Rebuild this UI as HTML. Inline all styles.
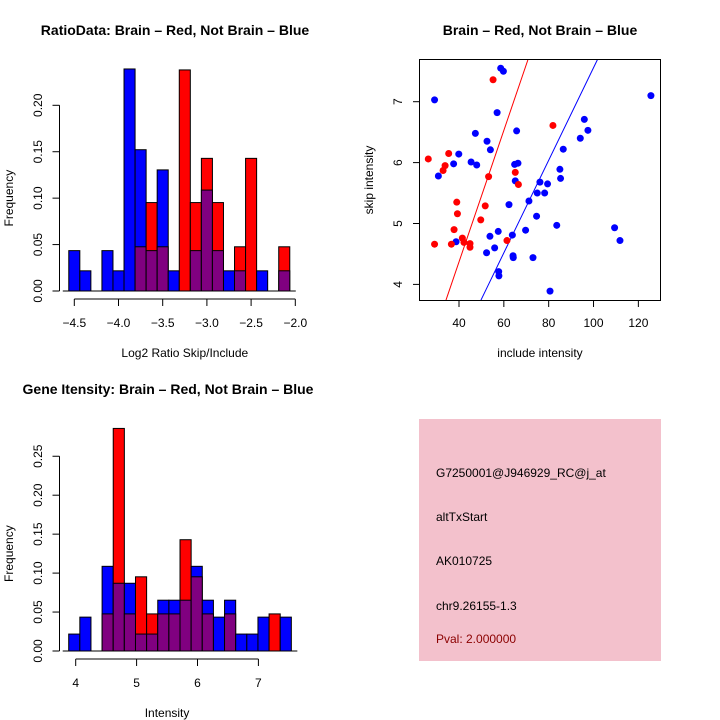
<!DOCTYPE html>
<html><head><meta charset="utf-8"><style>
body{margin:0;background:#fff;}
svg{display:block;font-family:"Liberation Sans",Arial,sans-serif;}
</style></head><body>
<svg id="s" width="720" height="720" viewBox="0 0 720 720">
<text x="175" y="35" text-anchor="middle" font-weight="bold" font-size="14">RatioData: Brain – Red, Not Brain – Blue</text>
<text x="540" y="35" text-anchor="middle" font-weight="bold" font-size="14">Brain – Red, Not Brain – Blue</text>
<text x="168" y="394" text-anchor="middle" font-weight="bold" font-size="14">Gene Itensity: Brain – Red, Not Brain – Blue</text>
<g id="g1"></g>
<g id="g2"></g>
<g id="g3"></g>
<g>
<rect x="419" y="419" width="242" height="242" fill="#f3c1cc"/>
<g font-size="12">
<text x="436" y="477">G7250001@J946929_RC@j_at</text>
<text x="436" y="521">altTxStart</text>
<text x="436" y="565">AK010725</text>
<text x="436" y="610">chr9.26155-1.3</text>
<text x="436" y="643" fill="#8b0000">Pval: 2.000000</text>
</g></g>
</svg>
<script>
// Ratio histogram data
const ratioBlueCounts=[2,1,0,2,1,11,7,2,6,1,0,2,5,2,1,1,0,1,0,1];
const ratioRedCounts=[0,0,0,0,0,0,1,2,1,0,5,2,3,2,0,1,3,0,0,1];
const ratioStart=-4.5625, ratioWidth=0.125;
const ratioXTicks=[-4.5,-4.0,-3.5,-3.0,-2.5,-2.0];
const ratioYTicks=[0,0.05,0.10,0.15,0.20];
// Intensity histogram data
const intBlueCounts=[1,2,0,5,4,4,1,1,3,3,3,5,3,2,3,1,1,2,0,2];
const intRedCounts=[0,0,0,1,6,1,2,1,1,1,3,2,1,0,1,0,0,0,1,0];
const intStart=3.885, intWidth=0.1828;
const intXTicks=[4,5,6,7];
const intYTicks=[0,0.05,0.10,0.15,0.20,0.25];
// Scatter data
const blueX=[29.1,58.6,59.8,57.0,125.6,47.3,52.5,54.0,39.9,37.6,45.4,47.9,30.8,65.7,64.8,66.3,65.1,76.1,79.5,74.9,78.2,71.2,62.3,74.6,85.0,85.3,86.5,94.1,95.9,97.5,83.6,109.4,111.8,69.7,63.8,57.5,53.8,38.7,52.3,55.9,64.1,64.2,73.0,57.7,57.8,80.6];
const blueY=[7.03,7.55,7.50,6.82,7.10,6.48,6.35,6.21,6.14,5.98,6.01,5.96,5.78,6.52,5.97,5.99,5.70,5.68,5.65,5.50,5.50,5.37,5.31,5.12,5.89,5.74,6.22,6.40,6.71,6.53,4.97,4.93,4.72,4.89,4.81,4.87,4.79,4.70,4.52,4.60,4.47,4.44,4.44,4.21,4.14,3.89];
const redX=[55.2,81.9,26.3,35.4,33.8,32.9,53.2,65.1,66.5,39.0,39.3,51.7,49.7,37.8,29.1,36.6,41.5,42.2,44.9,44.9,61.4];
const redY=[7.36,6.61,6.06,6.15,5.95,5.87,5.77,5.84,5.64,5.35,5.16,5.29,5.06,4.90,4.66,4.66,4.76,4.69,4.67,4.61,4.72];
const redLine=[[34.2,3.743],[70.8,7.695]];
const blueLine=[[49.8,3.743],[101.8,7.695]];
const scXTicks=[40,60,80,100,120];
const scYTicks=[4,5,6,7];

const NS="http://www.w3.org/2000/svg";
function mk(p,t,a){const e=document.createElementNS(NS,t);for(const k in a)e.setAttribute(k,a[k]);p.appendChild(e);return e;}

function hist(g,blue,red,start,w,xt,yt,X,Y,axY,lblY,xlab,xlabY,fmt){
  const nb=blue.reduce((a,b)=>a+b,0), nr=red.reduce((a,b)=>a+b,0);
  for(let i=0;i<blue.length;i++){
    const b=blue[i]/nb, r=red[i]/nr, x0=X(start+i*w), x1=X(start+(i+1)*w);
    const hi=Math.max(b,r), lo=Math.min(b,r);
    if(hi>0){const e=mk(g,'rect',{x:x0,y:Y(hi),width:x1-x0,height:Y(0)-Y(hi),fill:b>=r?'#0000ff':'#ff0000',stroke:'#000','stroke-width':1});
      
      }
    if(lo>0){const e=mk(g,'rect',{x:x0,y:Y(lo),width:x1-x0,height:Y(0)-Y(lo),fill:'#800080',stroke:'#000','stroke-width':1});
      
      }
  }
  const x0=X(start), x1=X(start+blue.length*w);
  mk(g,'line',{x1:x0-6,x2:x1+6,y1:Y(0),y2:Y(0),stroke:'#000'});
  const ax=59.5;
  mk(g,'line',{x1:ax,x2:ax,y1:Y(yt[0]),y2:Y(yt[yt.length-1]),stroke:'#000'});
  yt.forEach(v=>{mk(g,'line',{x1:ax-7,x2:ax,y1:Y(v),y2:Y(v),stroke:'#000'});
    const t=mk(g,'text',{x:0,y:0,'font-size':12,'text-anchor':'middle',transform:`translate(42,${Y(v)}) rotate(-90)`});t.textContent=v.toFixed(2);
    
    });
  mk(g,'line',{x1:X(xt[0]),x2:X(xt[xt.length-1]),y1:axY,y2:axY,stroke:'#000'});
  xt.forEach(v=>{mk(g,'line',{x1:X(v),x2:X(v),y1:axY,y2:axY+7,stroke:'#000'});
    const t=mk(g,'text',{x:X(v),y:lblY,'font-size':12,'text-anchor':'middle'});t.textContent=fmt(v);
    
    });
  const xl=mk(g,'text',{x:(X(xt[0])+X(xt[xt.length-1]))/2,y:xlabY,'font-size':12,'text-anchor':'middle'});xl.textContent=xlab;
  
  
  const yl=mk(g,'text',{x:0,y:0,'font-size':12,'text-anchor':'middle',transform:`translate(13,${(Y(0)+Y(yt[yt.length-1]))/2}) rotate(-90)`});yl.textContent='Frequency';
  
  
}
const m=v=>String(v).replace('-','\u2212');
hist(document.getElementById('g1'),ratioBlueCounts,ratioRedCounts,ratioStart,ratioWidth,ratioXTicks,ratioYTicks,
  v=>74.3+(v+4.5)*88.4, v=>291-v*928.5, 299, 327,'Log2 Ratio Skip/Include',357,v=>m(v.toFixed(1)));
hist(document.getElementById('g3'),intBlueCounts,intRedCounts,intStart,intWidth,intXTicks,intYTicks,
  v=>75.7+(v-4)*60.9, v=>651-v*779, 659, 687,'Intensity',717,v=>String(v));

const g2=document.getElementById('g2');
const SX=v=>459+(v-40)*2.242, SY=v=>101.7-(v-7)*60.9;
const clip=mk(g2,'clipPath',{id:'cp'});mk(clip,'rect',{x:419.5,y:59.5,width:241,height:241});
[[redLine,'#ff0000','fit-line-red'],[blueLine,'#0000ff','fit-line-blue']].forEach(([L,c,n])=>{
  const e=mk(g2,'line',{x1:SX(L[0][0]),y1:SY(L[0][1]),x2:SX(L[1][0]),y2:SY(L[1][1]),stroke:c,'clip-path':'url(#cp)'});
  
  });
blueX.forEach((x,i)=>{const e=mk(g2,'circle',{cx:SX(x),cy:SY(blueY[i]),r:3.5,fill:'#0000ff'});
  
  });
redX.forEach((x,i)=>{const e=mk(g2,'circle',{cx:SX(x),cy:SY(redY[i]),r:3.5,fill:'#ff0000'});
  
  });
mk(g2,'rect',{x:419.5,y:59.5,width:241,height:241,fill:'none',stroke:'#000'});
scXTicks.forEach(v=>{mk(g2,'line',{x1:SX(v),x2:SX(v),y1:300.5,y2:307,stroke:'#000'});
  const t=mk(g2,'text',{x:SX(v),y:327,'font-size':12,'text-anchor':'middle'});t.textContent=v;
  
  });
scYTicks.forEach(v=>{mk(g2,'line',{x1:413,x2:419.5,y1:SY(v),y2:SY(v),stroke:'#000'});
  const t=mk(g2,'text',{x:0,y:0,'font-size':12,'text-anchor':'middle',transform:`translate(402,${SY(v)}) rotate(-90)`});t.textContent=v;
  
  });
const sx=mk(g2,'text',{x:540,y:357,'font-size':12,'text-anchor':'middle'});sx.textContent='include intensity';


const sy=mk(g2,'text',{x:0,y:0,'font-size':12,'text-anchor':'middle',transform:'translate(373,180) rotate(-90)'});sy.textContent='skip intensity';


</script>
</body></html>
